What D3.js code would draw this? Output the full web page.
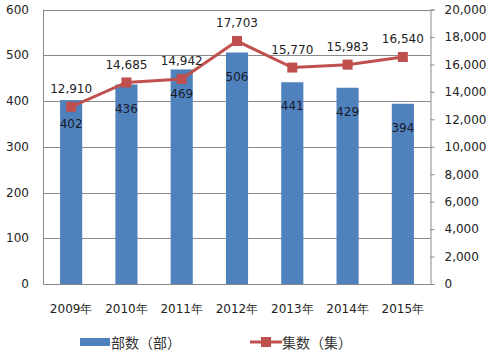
<!DOCTYPE html>
<html><head><meta charset="utf-8">
<script src="https://cdn.jsdelivr.net/npm/d3@7"></script>
<style>body{margin:0;background:#fff}svg{display:block}</style>
</head><body><svg id="c" width="491" height="353"></svg>
<script>
const categories = ["2009年","2010年","2011年","2012年","2013年","2014年","2015年"];
const bookCounts = [402,436,469,506,441,429,394];
const episodeCounts = [12910,14685,14942,17703,15770,15983,16540];
const leftTicks = [0,100,200,300,400,500,600];
const rightTicks = [0,2000,4000,6000,8000,10000,12000,14000,16000,18000,20000];
const seriesNames = ["部数（部）","集数（集）"];

const svg = d3.select("#c");
const m = {l:43.5, r:430.5, t:9.5, b:284};
const font = "DejaVu Sans, Verdana, sans-serif";
const grid = "#8a8a8a";

const x = d3.scaleBand().domain(categories).range([m.l, m.r]).paddingInner(0.6).paddingOuter(0.3);
const yL = d3.scaleLinear().domain([0,600]).range([m.b, m.t]);
const yR = d3.scaleLinear().domain([0,20000]).range([m.b, m.t]);

// gridlines
svg.append("g").selectAll("line").data(leftTicks).join("line")
  .attr("x1", m.l).attr("x2", m.r)
  .attr("y1", d=>Math.round(yL(d))+0.5).attr("y2", d=>Math.round(yL(d))+0.5)
  .attr("stroke", grid).attr("stroke-width",1);
// left border
svg.append("line").attr("x1",m.l).attr("x2",m.l).attr("y1",m.t).attr("y2",m.b)
  .attr("stroke",grid);

// bars
svg.append("g").selectAll("rect").data(bookCounts).join("rect")
  .attr("x",(d,i)=>x(categories[i])).attr("width",x.bandwidth())
  .attr("y",d=>yL(d)).attr("height",d=>m.b-yL(d))
  .attr("fill","#4f81bd");

// bottom axis line
svg.append("line").attr("x1",m.l).attr("x2",m.r).attr("y1",m.b+0.5).attr("y2",m.b+0.5).attr("stroke",grid);

// left axis labels
svg.append("g").selectAll("text").data(leftTicks).join("text")
  .attr("x",29).attr("y",d=>yL(d)).attr("dy","0.35em").attr("text-anchor","end")
  .attr("font-family",font).attr("font-size",12).attr("fill","#222").text(d=>d);

// right axis
const ra = svg.append("g").attr("transform",`translate(${m.r},0)`)
  .call(d3.axisRight(yR).tickValues(rightTicks).tickSize(4).tickPadding(10).tickFormat(d3.format(",")));
ra.select(".domain").attr("stroke",grid);
ra.selectAll(".tick line").attr("stroke",grid);
ra.selectAll("text").attr("font-family",font).attr("font-size",12).attr("fill","#222");

// x labels
svg.append("g").selectAll("text").data(categories).join("text")
  .attr("x",d=>x(d)+x.bandwidth()/2).attr("y",309).attr("dy","0.35em").attr("text-anchor","middle")
  .attr("font-family",font).attr("font-size",12).attr("fill","#222").text(d=>d);

// line
const cx = (i)=>x(categories[i])+x.bandwidth()/2;
svg.append("path").datum(episodeCounts)
  .attr("d", d3.line().x((d,i)=>cx(i)).y(d=>yR(d)))
  .attr("fill","none").attr("stroke","#c0504d").attr("stroke-width",3);
svg.append("g").selectAll("rect").data(episodeCounts).join("rect")
  .attr("x",(d,i)=>cx(i)-5).attr("y",d=>yR(d)-5).attr("width",10).attr("height",10)
  .attr("fill","#c0504d");

// bar labels
svg.append("g").selectAll("text").data(bookCounts).join("text")
  .attr("x",(d,i)=>cx(i)).attr("y",d=>yL(d)+24).attr("dy","0.35em").attr("text-anchor","middle")
  .attr("font-family",font).attr("font-size",12).attr("fill","#1a1a2a").text(d=>d);

// line labels
svg.append("g").selectAll("text").data(episodeCounts).join("text")
  .attr("x",(d,i)=>cx(i)).attr("y",d=>yR(d)-18).attr("dy","0.35em").attr("text-anchor","middle")
  .attr("font-family",font).attr("font-size",12).attr("fill","#222").text(d=>d3.format(",")(d));

// legend
const lg = svg.append("g");
lg.append("rect").attr("x",80).attr("y",338).attr("width",30).attr("height",8).attr("fill","#4f81bd");
lg.append("text").attr("x",111).attr("y",343).attr("dy","0.35em")
  .attr("font-family","Noto Sans CJK SC").attr("font-size",14).attr("fill","#333").text(seriesNames[0]);
lg.append("line").attr("x1",250).attr("x2",282).attr("y1",342).attr("y2",342).attr("stroke","#c0504d").attr("stroke-width",3);
lg.append("rect").attr("x",261).attr("y",337).attr("width",10).attr("height",10).attr("fill","#c0504d");
lg.append("text").attr("x",282).attr("y",343).attr("dy","0.35em")
  .attr("font-family","Noto Sans CJK SC").attr("font-size",14).attr("fill","#333").text(seriesNames[1]);
</script></body></html>
